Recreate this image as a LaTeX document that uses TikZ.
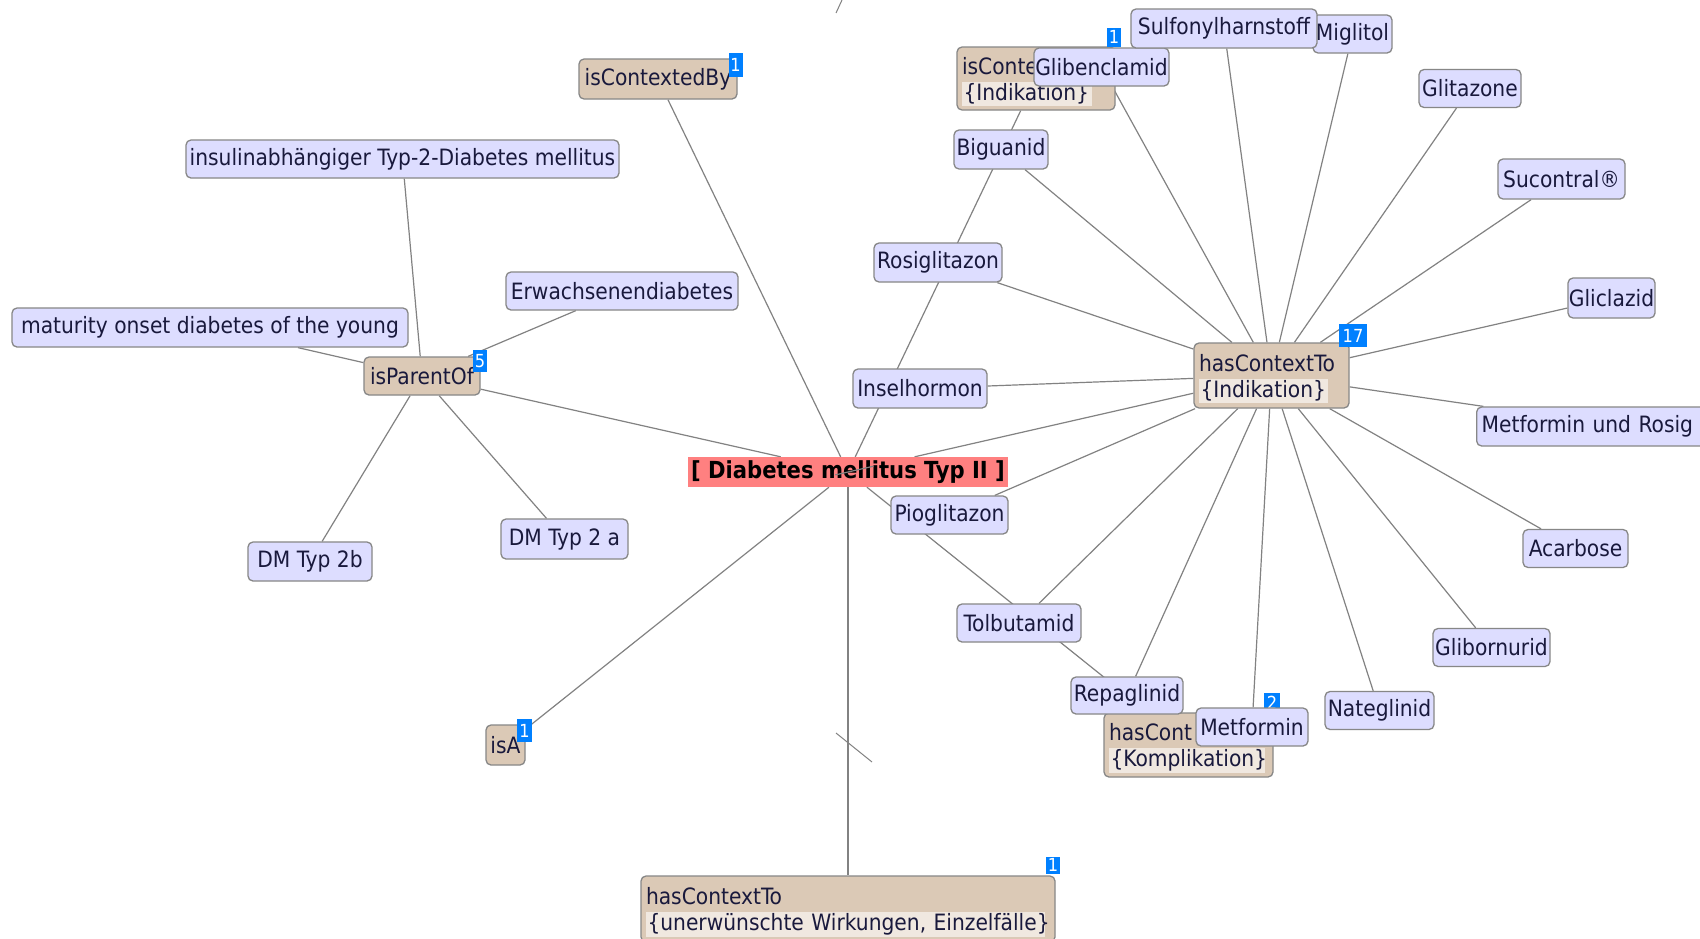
\documentclass[tikz,border=0pt]{standalone}
\usepackage{fontspec}
\setmainfont{DejaVu Sans Condensed}
\usetikzlibrary{calc}
\definecolor{nodefill}{RGB}{221,221,255}
\definecolor{relfill}{RGB}{219,201,182}
\definecolor{relstrip}{RGB}{240,232,224}
\definecolor{framegray}{RGB}{135,135,135}
\definecolor{edgegray}{RGB}{130,130,130}
\definecolor{ink}{RGB}{25,25,60}
\definecolor{focusred}{RGB}{255,128,128}
\definecolor{badgeblue}{RGB}{0,128,255}
\newcommand\lblfont{\fontsize{22.5}{26}\selectfont}
\newcommand\stripline[2]{{\setlength\fboxsep{1.5pt}\colorbox{relstrip}{\makebox[#1][l]{#2}}}}
\newcommand\toprow[1]{\rule{0pt}{24pt}#1}
\pgfdeclarelayer{paper}
\pgfdeclarelayer{edges}
\pgfdeclarelayer{front}
\pgfsetlayers{paper,edges,main,front}

\begin{document}
\begin{tikzpicture}[x=1pt,y=-1pt,
  term/.style={draw=framegray, line width=1.3pt, fill=nodefill, rounded corners=5pt,
    text=ink, font=\lblfont, inner sep=0pt, minimum height=38pt},
  rel/.style={draw=framegray, line width=1.3pt, fill=relfill, rounded corners=5pt,
    text=ink, font=\lblfont, inner sep=0pt, minimum height=38pt},
  relpair/.style={rel, inner xsep=5pt, inner ysep=0pt, align=left},
  badge/.style={fill=badgeblue, text=white, font=\fontsize{18}{18}\selectfont,
    inner sep=0pt, minimum width=14pt, minimum height=22pt},
  link/.style={draw=edgegray, line width=1.2pt},
  nick/.style={draw=edgegray, line width=1pt},
]

\useasboundingbox (0,0) rectangle (1700,938);
\begin{pgfonlayer}{paper}
  \fill[white] (0,0) rectangle (1700,938);
\end{pgfonlayer}
\clip (0,0) rectangle (1700,938);

% focus concept
\node[fill=focusred, text=black, font=\bfseries\fontsize{23.5}{26}\selectfont,
      minimum width=320pt, minimum height=30pt, inner sep=0pt] (focus) at (848,472)
      {[ Diabetes mellitus Typ II ]};

% left cluster
\node[rel, minimum width=158pt, minimum height=40pt] (isctx) at (658,79) {isContextedBy};
\node[badge, minimum height=24pt] (bisctx) at (735.5,65) {1};
\node[term, minimum width=433pt] (insul) at (402.5,159) {insulinabhängiger Typ-2-Diabetes mellitus};
\node[term, minimum width=232pt] (erw) at (622,291) {Erwachsenendiabetes};
\node[term, minimum width=396pt, minimum height=39pt] (mody) at (210,327.5) {maturity onset diabetes of the young};
\node[rel, minimum width=116pt] (parent) at (422,376) {isParentOf};
\node[badge] (bparent) at (480,361) {5};
\node[term, minimum width=124pt, minimum height=39pt] (dmb) at (310,561.5) {DM Typ 2b};
\node[term, minimum width=127pt, minimum height=40pt] (dma) at (564.5,539) {DM Typ 2 a};
\node[rel, minimum width=39pt, minimum height=40pt] (isa) at (505.5,745) {isA};
\node[badge, minimum width=15pt, minimum height=23pt] (bisa) at (524.5,730.5) {1};

% right cluster
\node[relpair, text width=148pt, minimum height=63pt] (indik) at (1036,78.5)
  {\toprow{isConte}\\\stripline{127pt}{\{Indikation\}}};
\node[badge, minimum height=19pt] (bindik) at (1114,37) {1};
\node[term, minimum width=135pt] (glib) at (1101.5,67) {Glibenclamid};
\node[term, minimum width=79pt] (migl) at (1352.5,34) {Miglitol};
\node[term, minimum width=186pt, minimum height=39pt] (sulf) at (1224,28.5) {Sulfonylharnstoff};
\node[term, minimum width=102pt] (glitaz) at (1470,88.5) {Glitazone};
\node[term, minimum width=94pt, minimum height=39pt] (bigu) at (1001,149.5) {Biguanid};
\node[term, minimum width=128pt, minimum height=39pt] (rosi) at (938,262.5) {Rosiglitazon};
\node[term, minimum width=134pt, minimum height=39pt] (insel) at (920,388.5) {Inselhormon};
\node[term, minimum width=127pt, minimum height=40pt] (sucon) at (1561.5,179) {Sucontral®};
\node[term, minimum width=87pt, minimum height=40pt] (glicl) at (1611.5,298) {Gliclazid};
\node[term, anchor=west, text width=280pt, inner xsep=5pt, align=left, minimum height=39pt]
  (metrosig) at (1476,426.5) {Metformin und Rosig};
\node[relpair, text width=145pt, minimum height=65pt] (hasindik) at (1271.5,375.5)
  {\toprow{hasContextTo}\\\stripline{126pt}{\{Indikation\}}};
\node[badge, minimum width=28pt, minimum height=23pt] (bhasindik) at (1353,335.5) {17};
\node[term, minimum width=105pt] (acarb) at (1575.5,548.5) {Acarbose};
\node[term, minimum width=117pt] (glibo) at (1491.5,647.5) {Glibornurid};
\node[term, minimum width=109pt] (nateg) at (1379.5,710.5) {Nateglinid};
\node[term, minimum width=117pt] (piog) at (949.5,515) {Pioglitazon};
\node[term, minimum width=124pt] (tolb) at (1019,623) {Tolbutamid};
\node[relpair, text width=159pt, minimum height=64pt] (kompl) at (1188.5,745)
  {\toprow{hasCont}\\\stripline{153pt}{\{Komplikation\}}};
\node[badge, minimum width=16pt, minimum height=20pt] (bkompl) at (1272,703) {2};
\node[term, minimum width=112pt, minimum height=37pt] (repag) at (1127,695.5) {Repaglinid};
\node[term, minimum width=112pt] (metf) at (1252,727) {Metformin};
\node[relpair, text width=404pt, minimum height=66pt] (unerw) at (848,909)
  {\toprow{hasContextTo}\\\stripline{396pt}{\{unerwünschte Wirkungen, Einzelfälle\}}};
\node[badge, minimum height=17pt] (bunerw) at (1053,865) {1};

% loose tick marks
\coordinate (nickA) at (842,0);
\coordinate (nickB) at (836,13);
\coordinate (tickA) at (836,733);
\coordinate (tickB) at (872,762);

\begin{pgfonlayer}{edges}
  % relations of the focus concept
  \foreach \n in {isctx,parent,indik,hasindik,kompl,unerw,isa}
    \draw[link] (focus) -- (\n);
  % isParentOf
  \foreach \n in {insul,erw,mody,dmb,dma}
    \draw[link] (parent) -- (\n);
  % hasContextTo {Indikation}
  \foreach \n in {glib,sulf,migl,glitaz,bigu,rosi,insel,sucon,glicl,metrosig,
                  acarb,glibo,nateg,metf,repag,tolb,piog}
    \draw[link] (hasindik) -- (\n);
  \draw[nick] (nickA) -- (nickB);
  \draw[nick] (tickA) -- (tickB);
\end{pgfonlayer}

\begin{pgfonlayer}{front}
  \draw[link] ($(focus.center)!-0.03!(hasindik.center)$) -- ($(focus.center)!0.06!(hasindik.center)$);
\end{pgfonlayer}
\end{tikzpicture}
\end{document}
